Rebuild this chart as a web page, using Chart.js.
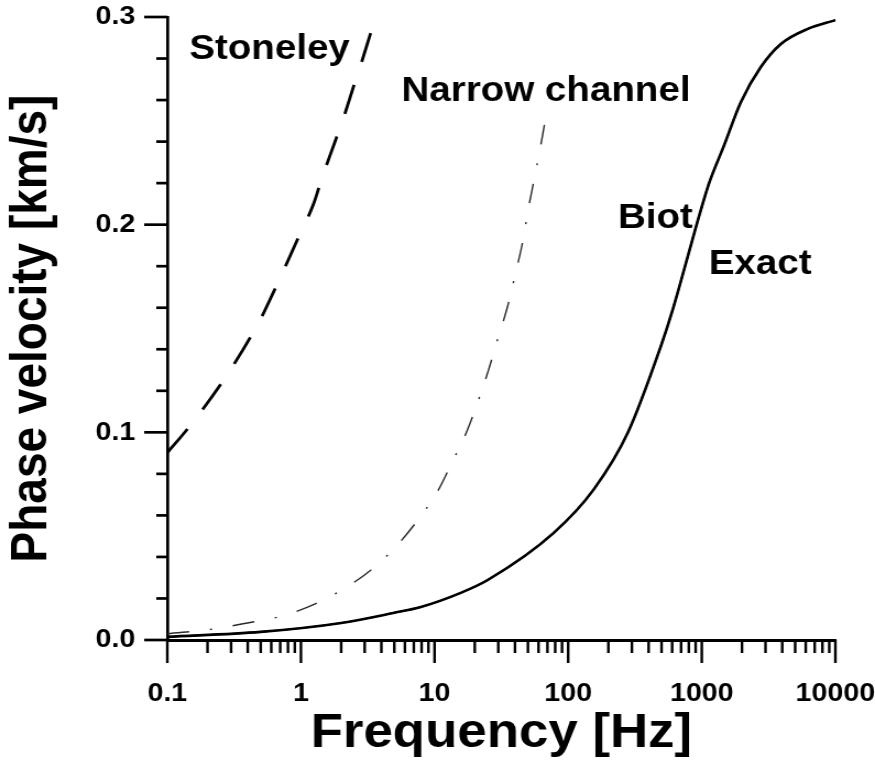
<!DOCTYPE html>
<html><head><meta charset="utf-8">
<script src="https://cdn.jsdelivr.net/npm/chart.js@4/dist/chart.umd.min.js"></script>
<style>
html,body{margin:0;padding:0;background:#fff;overflow:hidden;width:875px;height:765px;}
#wrap{position:absolute;left:0;top:0;width:795px;height:765px;transform:scaleX(1.10063);transform-origin:0 0;}
</style></head><body>
<div id="wrap"><canvas id="c"></canvas></div>
<script>
// ---- tick labels ----
const xTickValues = [0.1, 1, 10, 100, 1000, 10000];
const xTickLabels = ['0.1', '1', '10', '100', '1000', '10000'];
const yTickValues = [0.0, 0.1, 0.2, 0.3];
const yTickLabels = ['0.0', '0.1', '0.2', '0.3'];

// ---- series (frequency in Hz, phase velocity in km/s) ----
const stoneleyFreq = [0.1, 0.146, 0.281, 0.497, 0.622, 0.79, 0.958, 1.24, 1.44, 1.75, 2.09, 2.47, 2.87, 3.5];
const stoneleyVel  = [0.0902, 0.1027, 0.1278, 0.1544, 0.1674, 0.1819, 0.1939, 0.2098, 0.2227, 0.2378, 0.2517, 0.2663, 0.279, 0.297];

const narrowFreq = [0.1, 0.221, 0.397, 0.726, 1.28, 2.15, 3.49, 5.28, 8.13, 10.5, 13.6, 17.4, 21.4, 25.4, 29.6, 35.2, 40.5, 45.6, 49.8, 56.1, 62.2, 69.0];
const narrowVel  = [0.003, 0.0053, 0.0082, 0.0116, 0.0174, 0.0251, 0.0347, 0.0458, 0.0608, 0.0714, 0.0859, 0.1003, 0.1158, 0.1302, 0.1447, 0.1606, 0.177, 0.1915, 0.206, 0.2229, 0.2378, 0.2542];

const exactFreq = [0.1, 0.5, 2, 4.9, 7.9, 15.7, 25, 78, 155, 280, 493, 607, 746, 917, 1128, 1461, 1960, 2766, 3907, 6223, 10000];
const exactVel  = [0.0015, 0.0039, 0.0082, 0.013, 0.0159, 0.0227, 0.0289, 0.0516, 0.0724, 0.0999, 0.1413, 0.1592, 0.1795, 0.2002, 0.2195, 0.2378, 0.259, 0.2759, 0.287, 0.2943, 0.2985];

const biotFreq = [0.1, 0.5, 2, 4.9, 7.9, 15.7, 25, 78, 155, 280, 493, 607, 746, 917, 1128, 1461, 1960, 2766, 3907, 6223, 10000];
const biotVel  = [0.0015, 0.0039, 0.0082, 0.013, 0.0159, 0.0227, 0.0289, 0.0516, 0.0724, 0.0999, 0.1413, 0.1592, 0.1795, 0.2002, 0.2195, 0.2378, 0.259, 0.2759, 0.287, 0.2943, 0.2985];

const curveLabels = [
  {text: 'Stoneley', f: 0.146, v: 0.2842, align: 'left'},
  {text: 'Narrow channel', f: 5.66, v: 0.2641, align: 'left'},
  {text: 'Biot', f: 857, v: 0.2031, align: 'right'},
  {text: 'Exact', f: 1127, v: 0.1807, align: 'left'}
];

// ---- build tick lists (majors + minors) ----
const xAllTicks = [];
xTickValues.forEach((d, i) => {
  xAllTicks.push({value: d, major: true});
  if (i < xTickValues.length - 1) for (let k = 2; k <= 9; k++) xAllTicks.push({value: d * k, major: false});
});
const yAllTicks = [];
yTickValues.forEach((d, i) => {
  yAllTicks.push({value: d, major: true});
  if (i < yTickValues.length - 1) for (let k = 1; k <= 4; k++) yAllTicks.push({value: +(d + 0.02 * k).toFixed(4), major: false});
});
yAllTicks.sort((a, b) => a.value - b.value);

const pts = (fx, vy) => fx.map((f, i) => ({x: f, y: vy[i]}));
const FONT = '"Liberation Sans", Arial, Helvetica, sans-serif';

const tickMarks = {
  id: 'tickMarks',
  afterDraw(chart) {
    const ctx = chart.ctx, ca = chart.chartArea;
    const xs = chart.scales.x, ys = chart.scales.y;
    ctx.save();
    ctx.strokeStyle = '#000';
    ctx.lineCap = 'butt';
    ctx.lineWidth = 2.4;
    xs.ticks.forEach(t => {
      const px = xs.getPixelForValue(t.value);
      const len = t.major ? 23 : 13;
      ctx.beginPath(); ctx.moveTo(px, ca.bottom); ctx.lineTo(px, ca.bottom + len); ctx.stroke();
    });
    ctx.lineWidth = 2.7;
    ys.ticks.forEach(t => {
      const py = ys.getPixelForValue(t.value);
      const len = t.major ? 21 : 10;
      ctx.beginPath(); ctx.moveTo(ca.left, py); ctx.lineTo(ca.left - len, py); ctx.stroke();
    });
    ctx.restore();
  }
};

const textLabels = {
  id: 'textLabels',
  afterDatasetsDraw(chart) {
    const ctx = chart.ctx, xs = chart.scales.x, ys = chart.scales.y;
    ctx.save();
    ctx.fillStyle = '#000';
    ctx.font = 'bold 35px ' + FONT;
    ctx.textBaseline = 'middle';
    curveLabels.forEach(l => {
      ctx.textAlign = l.align;
      ctx.fillText(l.text, xs.getPixelForValue(l.f), ys.getPixelForValue(l.v));
    });
    ctx.restore();
  }
};

new Chart(document.getElementById('c'), {
  type: 'line',
  data: {
    datasets: [
      {label: 'Stoneley', data: pts(stoneleyFreq, stoneleyVel), borderColor: '#000', borderWidth: 2.8, borderDash: [30, 24], pointRadius: 0, cubicInterpolationMode: 'monotone', fill: false},
      {label: 'Narrow channel', data: pts(narrowFreq, narrowVel), borderColor: '#2a2a2a', borderWidth: 1.4, borderDash: [20, 19, 2, 19], pointRadius: 0, cubicInterpolationMode: 'monotone', fill: false},
      {label: 'Exact', data: pts(exactFreq, exactVel), borderColor: '#000', borderWidth: 2.6, pointRadius: 0, cubicInterpolationMode: 'monotone', fill: false},
      {label: 'Biot', data: pts(biotFreq, biotVel), borderColor: '#111', borderWidth: 1.6, pointRadius: 0, cubicInterpolationMode: 'monotone', fill: false}
    ]
  },
  options: {
    responsive: true,
    maintainAspectRatio: false,
    animation: false,
    events: [],
    layout: {padding: {top: 17, right: 36, bottom: 0, left: 0}},
    plugins: {legend: {display: false}, tooltip: {enabled: false}},
    scales: {
      x: {
        type: 'logarithmic', min: 0.1, max: 10000, position: 'bottom',
        afterBuildTicks: s => { s.ticks = xAllTicks.map(t => ({value: t.value, major: t.major})); },
        afterFit: s => { s.height = 125; s.paddingLeft = 0; s.paddingRight = 0; s.paddingTop = 0; s.paddingBottom = 0; },
        grid: {display: false},
        border: {display: true, color: '#000', width: 3},
        ticks: {
          autoSkip: false, maxRotation: 0, minRotation: 0, padding: 30, color: '#000',
          font: {family: FONT, size: 26, weight: 'bold', lineHeight: 1.2},
          callback: (v, i, ticks) => {
            const j = xTickValues.findIndex(m => Math.abs(m - ticks[i].value) < 1e-9);
            return j >= 0 ? xTickLabels[j] : '';
          }
        },
        title: {display: true, text: 'Frequency [Hz]', color: '#000', font: {family: FONT, size: 48, weight: 'bold', lineHeight: 1}, padding: {top: 0, bottom: 7}}
      },
      y: {
        type: 'linear', min: 0, max: 0.3, position: 'left',
        afterBuildTicks: s => { s.ticks = yAllTicks.map(t => ({value: t.value, major: t.major})); },
        afterFit: s => { s.width = 152; s.paddingLeft = 0; s.paddingRight = 0; s.paddingTop = 0; s.paddingBottom = 0; },
        grid: {display: false},
        border: {display: true, color: '#000', width: 2.7},
        ticks: {
          autoSkip: false, padding: 21, color: '#000',
          font: {family: FONT, size: 26, weight: 'bold', lineHeight: 1.2},
          callback: (v, i, ticks) => {
            const j = yTickValues.findIndex(m => Math.abs(m - ticks[i].value) < 1e-9);
            return j >= 0 ? yTickLabels[j] : '';
          }
        },
        title: {display: true, text: 'Phase velocity [km/s]', color: '#000', font: {family: FONT, size: 46, weight: 'bold', lineHeight: 1}, padding: {top: 6, bottom: 0}}
      }
    }
  },
  plugins: [tickMarks, textLabels]
});
</script>
</body></html>
